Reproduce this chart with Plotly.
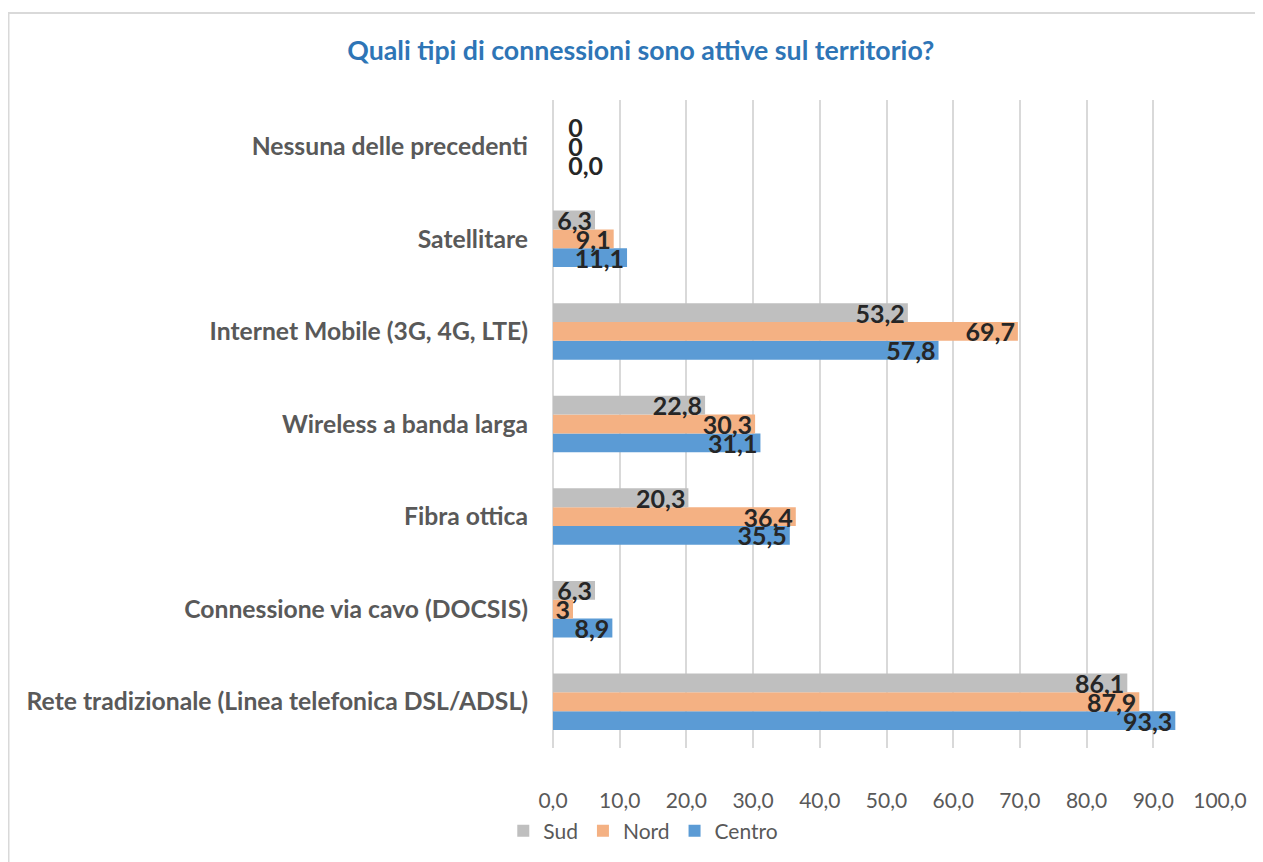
import plotly.graph_objects as go

categories = [
    "Rete tradizionale (Linea telefonica DSL/ADSL)",
    "Connessione via cavo (DOCSIS)",
    "Fibra ottica",
    "Wireless a banda larga",
    "Internet Mobile (3G, 4G, LTE)",
    "Satellitare",
    "Nessuna delle precedenti",
]
centro = [93.3, 8.9, 35.5, 31.1, 57.8, 11.1, 0.0]
nord = [87.9, 3.0, 36.4, 30.3, 69.7, 9.1, 0.0]
sud = [86.1, 6.3, 20.3, 22.8, 53.2, 6.3, 0.0]
centro_labels = ["93,3", "8,9", "35,5", "31,1", "57,8", "11,1", "0,0"]
nord_labels = ["87,9", "3", "36,4", "30,3", "69,7", "9,1", "0"]
sud_labels = ["86,1", "6,3", "20,3", "22,8", "53,2", "6,3", "0"]
x_ticks = [0, 10, 20, 30, 40, 50, 60, 70, 80, 90, 100]

FONT = "Lato"
series = [
    ("Centro", centro, centro_labels, "#5B9BD5"),
    ("Nord", nord, nord_labels, "#F4B183"),
    ("Sud", sud, sud_labels, "#BFBFBF"),
]

L, R, T, B = 545, 51, 92, 122
W, H = 1263, 862
PW, PH = W - L - R, H - T - B

fig = go.Figure()
for name, vals, labels, color in series:
    fig.add_trace(go.Bar(
        y=categories, x=vals, name=name, orientation="h",
        marker=dict(color=color, line=dict(width=0)),
        text=[("\u00a0\u00a0" + t) if v == 0 else t for v, t in zip(vals, labels)],
        textposition=["outside" if v == 0 else "inside" for v in vals],
        insidetextanchor="end", textangle=0,
        constraintext="none", cliponaxis=False,
        textfont=dict(family=FONT, size=25, color="#262626", weight="bold"),
        hoverinfo="x+name",
    ))

fig.update_layout(
    width=W, height=H,
    paper_bgcolor="white", plot_bgcolor="white",
    barmode="group", bargap=0.39, bargroupgap=0,
    margin=dict(l=L, r=R, t=T, b=B, autoexpand=False),
    separators=",.",
    title=dict(text="<b>Quali tipi di connessioni sono attive sul territorio?</b>",
               xref="container", x=0.501, xanchor="center",
               yref="container", y=1 - 43 / H, yanchor="middle",
               font=dict(family=FONT, size=26.7, color="#2E75B6")),
    xaxis=dict(range=[0, 100], tickvals=x_ticks, tickformat=".1f",
               showgrid=True, gridcolor="#D9D9D9", gridwidth=2,
               zeroline=True, zerolinecolor="#D9D9D9", zerolinewidth=2,
               showline=False, ticks="", ticklen=0, ticklabelstandoff=38,
               automargin=False,
               tickfont=dict(family=FONT, size=21, color="#595959")),
    yaxis=dict(categoryorder="array", categoryarray=categories,
               showgrid=False, zeroline=False, showline=False, ticks="",
               ticklabelstandoff=24, automargin=False,
               tickfont=dict(family=FONT, size=24.7, color="#595959", weight="bold")),
    legend=dict(orientation="h", traceorder="reversed",
                xref="container", x=0.503, xanchor="center",
                yref="container", y=1 - 823 / H, yanchor="middle",
                font=dict(family=FONT, size=21, color="#595959"),
                itemwidth=30),
    shapes=[dict(type="rect", xref="paper", yref="paper",
                 x0=(0.5 - L) / PW, x1=1.3, y0=-0.5, y1=(H - B - 5) / PH,
                 line=dict(color="#D9D9D9", width=2), layer="below")],
)

fig.write_html("out.html")
